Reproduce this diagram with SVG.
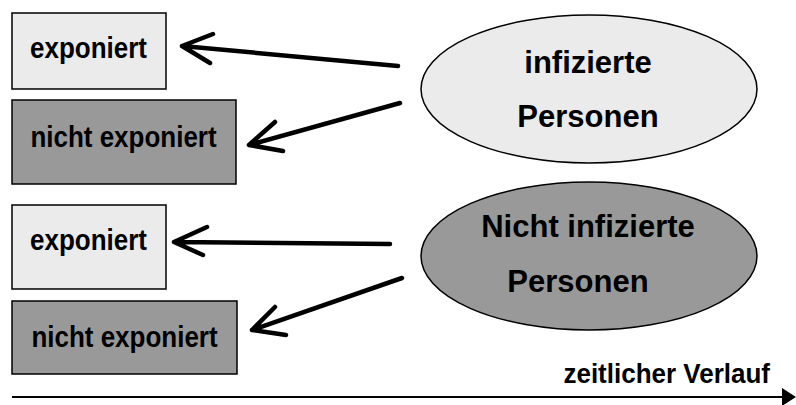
<svg xmlns="http://www.w3.org/2000/svg" width="796" height="405" viewBox="0 0 796 405">
<style>
text{font-family:"Liberation Sans",Arial,sans-serif;font-weight:bold;fill:#000}
.box{stroke:#000;stroke-width:1.5}
.light{fill:#ebebeb}
.dark{fill:#999}
.t26{font-size:26px;text-anchor:middle}
.t31{font-size:31px;text-anchor:middle}
.arr{fill:none;stroke:#000;stroke-width:4.5;stroke-linecap:round;stroke-linejoin:round}
</style>
<rect width="796" height="405" fill="#fff"/>
<g id="box1"><rect class="box light" x="12" y="13" width="154" height="76"/><text class="t26" transform="translate(88.5,58) scale(1,1.15)">exponiert</text></g>
<g id="box2"><rect class="box dark" x="12" y="100" width="224" height="84"/><text class="t26" transform="translate(123.5,147) scale(1,1.15)">nicht exponiert</text></g>
<g id="box3"><rect class="box light" x="12" y="205" width="154" height="84"/><text class="t26" transform="translate(88.5,250) scale(1,1.15)">exponiert</text></g>
<g id="box4"><rect class="box dark" x="12" y="301" width="225" height="73"/><text class="t26" transform="translate(124.5,347) scale(1,1.15)">nicht exponiert</text></g>
<g id="ell1"><ellipse class="box light" cx="589" cy="89" rx="168" ry="74"/><text class="t31" x="588" y="73">infizierte</text><text class="t31" x="588" y="127">Personen</text></g>
<g id="ell2"><ellipse class="box dark" cx="589" cy="256" rx="168" ry="74"/><text class="t31" x="588" y="237">Nicht infizierte</text><text class="t31" x="578" y="292">Personen</text></g>
<g id="connectors">
<path class="arr" d="M398,66 L182,46 M213,34 L182,46 L210,63"/>
<path class="arr" d="M400,103 L249,145 M275,122 L249,145 L283,151"/>
<path class="arr" d="M390,244 L174,242 M207,227 L174,242 L203,255"/>
<path class="arr" d="M402,278 L252,330 M275,307 L252,330 L286,335"/>
<line x1="12" y1="397" x2="784" y2="397" stroke="#000" stroke-width="2"/>
<polygon points="782,388 796,397 782,406" fill="#000"/>
</g>
<text font-size="26" text-anchor="end" transform="translate(770,383) scale(1,1.06)">zeitlicher Verlauf</text>
</svg>
